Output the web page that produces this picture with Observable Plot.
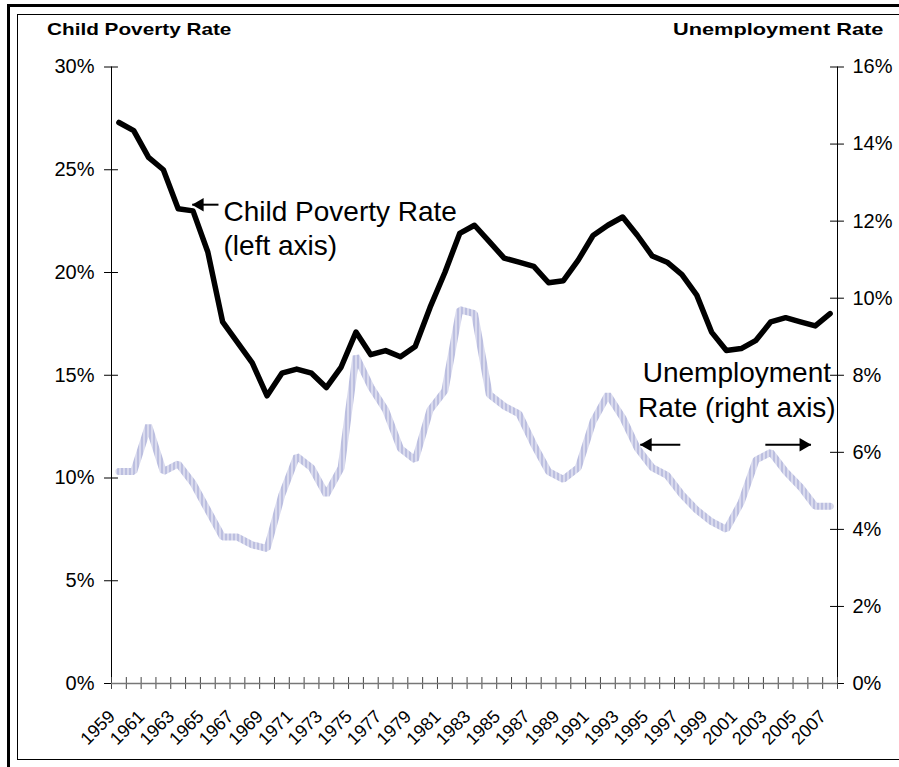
<!DOCTYPE html>
<html><head><meta charset="utf-8">
<script src="https://cdn.jsdelivr.net/npm/d3@7"></script>
<script src="https://cdn.jsdelivr.net/npm/@observablehq/plot@0.6"></script>
<style>
html,body{margin:0;padding:0;background:#fff;overflow:hidden;width:899px;height:767px}
#wrap{position:relative;width:899px;height:767px;font-family:"Liberation Sans",Arial,sans-serif;overflow:hidden}
.b1{position:absolute;left:7px;top:4px;width:1000px;height:1000px;border-left:3px solid #000;border-top:3px solid #000}
.b2{position:absolute;left:17px;top:14px;width:1000px;height:744px;border:1px solid #000}
.hdr{position:absolute;top:20px;font-weight:bold;font-size:17px;line-height:20px;color:#000;white-space:nowrap}
#hl{left:47px;transform:scaleX(1.22);transform-origin:left center}
#hr{right:16px;transform:scaleX(1.28);transform-origin:right center}
#chart{position:absolute;left:0;top:50px}
</style>
</head>
<body>
<div id="wrap">
  <div class="b1"></div>
  <div class="b2"></div>
  <svg width="0" height="0" style="position:absolute">
    <defs>
      <pattern id="unempPat" patternUnits="userSpaceOnUse" width="4" height="4">
        <rect width="4" height="4" fill="#bcbfe0"></rect>
        <rect x="3" width="1" height="4" fill="#ffffff" fill-opacity="0.85"></rect>
      </pattern>
    </defs>
  </svg>
  <div class="hdr" id="hl">Child Poverty Rate</div>
  <div class="hdr" id="hr">Unemployment Rate</div>
  <div id="chart"></div>
</div>
<script>
// ---- data ----
const years = d3.range(1959, 2008);
const childPoverty = [27.3,26.9,25.6,25.0,23.1,23.0,21.0,17.6,16.6,15.6,14.0,15.1,15.3,15.1,14.4,15.4,17.1,16.0,16.2,15.9,16.4,18.3,20.0,21.9,22.3,21.5,20.7,20.5,20.3,19.5,19.6,20.6,21.8,22.3,22.7,21.8,20.8,20.5,19.9,18.9,17.1,16.2,16.3,16.7,17.6,17.8,17.6,17.4,18.0];
const unemployment = [5.5,5.5,6.7,5.5,5.7,5.2,4.5,3.8,3.8,3.6,3.5,4.9,5.9,5.6,4.9,5.6,8.5,7.7,7.1,6.1,5.8,7.1,7.6,9.7,9.6,7.5,7.2,7.0,6.2,5.5,5.3,5.6,6.8,7.5,6.9,6.1,5.6,5.4,4.9,4.5,4.2,4.0,4.7,5.8,6.0,5.5,5.1,4.6,4.6];
const leftTicks = [0,5,10,15,20,25,30];          // child poverty %
const rightTicks = [0,2,4,6,8,10,12,14,16];      // unemployment %
const labelYears = years.filter(y => (y - 1959) % 2 === 0);
const leftMax = 30, rightMax = 16;

// annotations (data coordinates: year, left-axis %)
const notes = [
  {x: 1966.06, y: 23.69, text: "Child Poverty Rate\n(left axis)", anchor: "start"},
  {x: 2000.71, y: 15.87, text: "Unemployment\nRate (right axis)", anchor: "middle"}
];
const arrows = [
  {x1: 1965.72, x2: 1963.95, y: 23.30, dir: -1},
  {x1: 1996.89, x2: 1994.19, y: 11.62, dir: -1},
  {x1: 2002.63, x2: 2005.71, y: 11.62, dir: 1}
];

// ---- build ----
const rows = years.map((yr, i) => ({year: yr, pov: childPoverty[i], un: unemployment[i]}));
const k = leftMax / rightMax;
const xMin = years[0] - 0.5, xMax = years[years.length - 1] + 0.5;
const tx = 0.47;   // half tick length in years
const ty = 0.29;   // half tick length in %
const bounds = d3.range(xMin, xMax + 0.01, 1);

const chart = Plot.plot({
  width: 899,
  height: 717,
  marginLeft: 111,
  marginRight: 62,
  marginTop: 16.5,
  marginBottom: 84,
  style: {fontFamily: "Liberation Sans, Arial, sans-serif", fontSize: "20px", color: "#000", background: "transparent", overflow: "visible"},
  x: {domain: [xMin, xMax]},
  y: {domain: [0, leftMax]},
  marks: [
    Plot.axisY({ticks: leftTicks, tickSize: 0, tickPadding: 17, tickFormat: d => d + "%", label: null, fontSize: 20}),
    Plot.axisY({anchor: "right", ticks: rightTicks.map(d => d * k), tickSize: 0, tickPadding: 15, tickFormat: d => Math.round(d / k) + "%", label: null, fontSize: 20}),
    Plot.axisX({ticks: labelYears, tickSize: 0, tickPadding: 30, tickRotate: -45, tickFormat: d => String(d), label: null, fontSize: 18, dx: -7}),
    Plot.ruleX([xMin], {y1: 0, y2: leftMax, stroke: "#000", strokeWidth: 1}),
    Plot.ruleX([xMax], {y1: 0, y2: leftMax, stroke: "#000", strokeWidth: 1}),
    Plot.ruleY(leftTicks, {y: d => d, x1: xMin - tx, x2: xMin + tx, stroke: "#000"}),
    Plot.ruleY(rightTicks.map(d => d * k), {y: d => d, x1: xMax - tx, x2: xMax + tx, stroke: "#000"}),
    Plot.ruleX(bounds, {x: d => d, y1: -ty, y2: ty, stroke: "#444"}),
    Plot.ruleY([0], {x1: xMin, x2: xMax, stroke: "#777", strokeWidth: 1.5}),
    Plot.line(rows, {x: "year", y: d => d.un * k, stroke: "url(#unempPat)", strokeWidth: 7, strokeLinejoin: "miter"}),
    Plot.line(rows, {x: "year", y: "pov", stroke: "#000", strokeWidth: 5.5, strokeLinejoin: "round"}),
    Plot.link(arrows, {x1: "x1", x2: "x2", y1: "y", y2: "y", stroke: "#000", strokeWidth: 2}),
    Plot.dot(arrows.filter(a => a.dir < 0), {x: "x2", y: "y", symbol: "triangle", r: 5, fill: "#000", stroke: "none", rotate: -90, dx: 7.5}),
    Plot.dot(arrows.filter(a => a.dir > 0), {x: "x2", y: "y", symbol: "triangle", r: 5, fill: "#000", stroke: "none", rotate: 90, dx: -7.5}),
    Plot.text(notes.filter(n => n.anchor === "start"), {x: "x", y: "y", text: "text", textAnchor: "start", lineAnchor: "top", fontSize: 28, lineHeight: 1.21, fill: "#000"}),
    Plot.text(notes.filter(n => n.anchor === "middle"), {x: "x", y: "y", text: "text", textAnchor: "middle", lineAnchor: "top", fontSize: 28, lineHeight: 1.25, fill: "#000"})
  ]
});
document.getElementById("chart").appendChild(chart);
</script>
</body></html>
